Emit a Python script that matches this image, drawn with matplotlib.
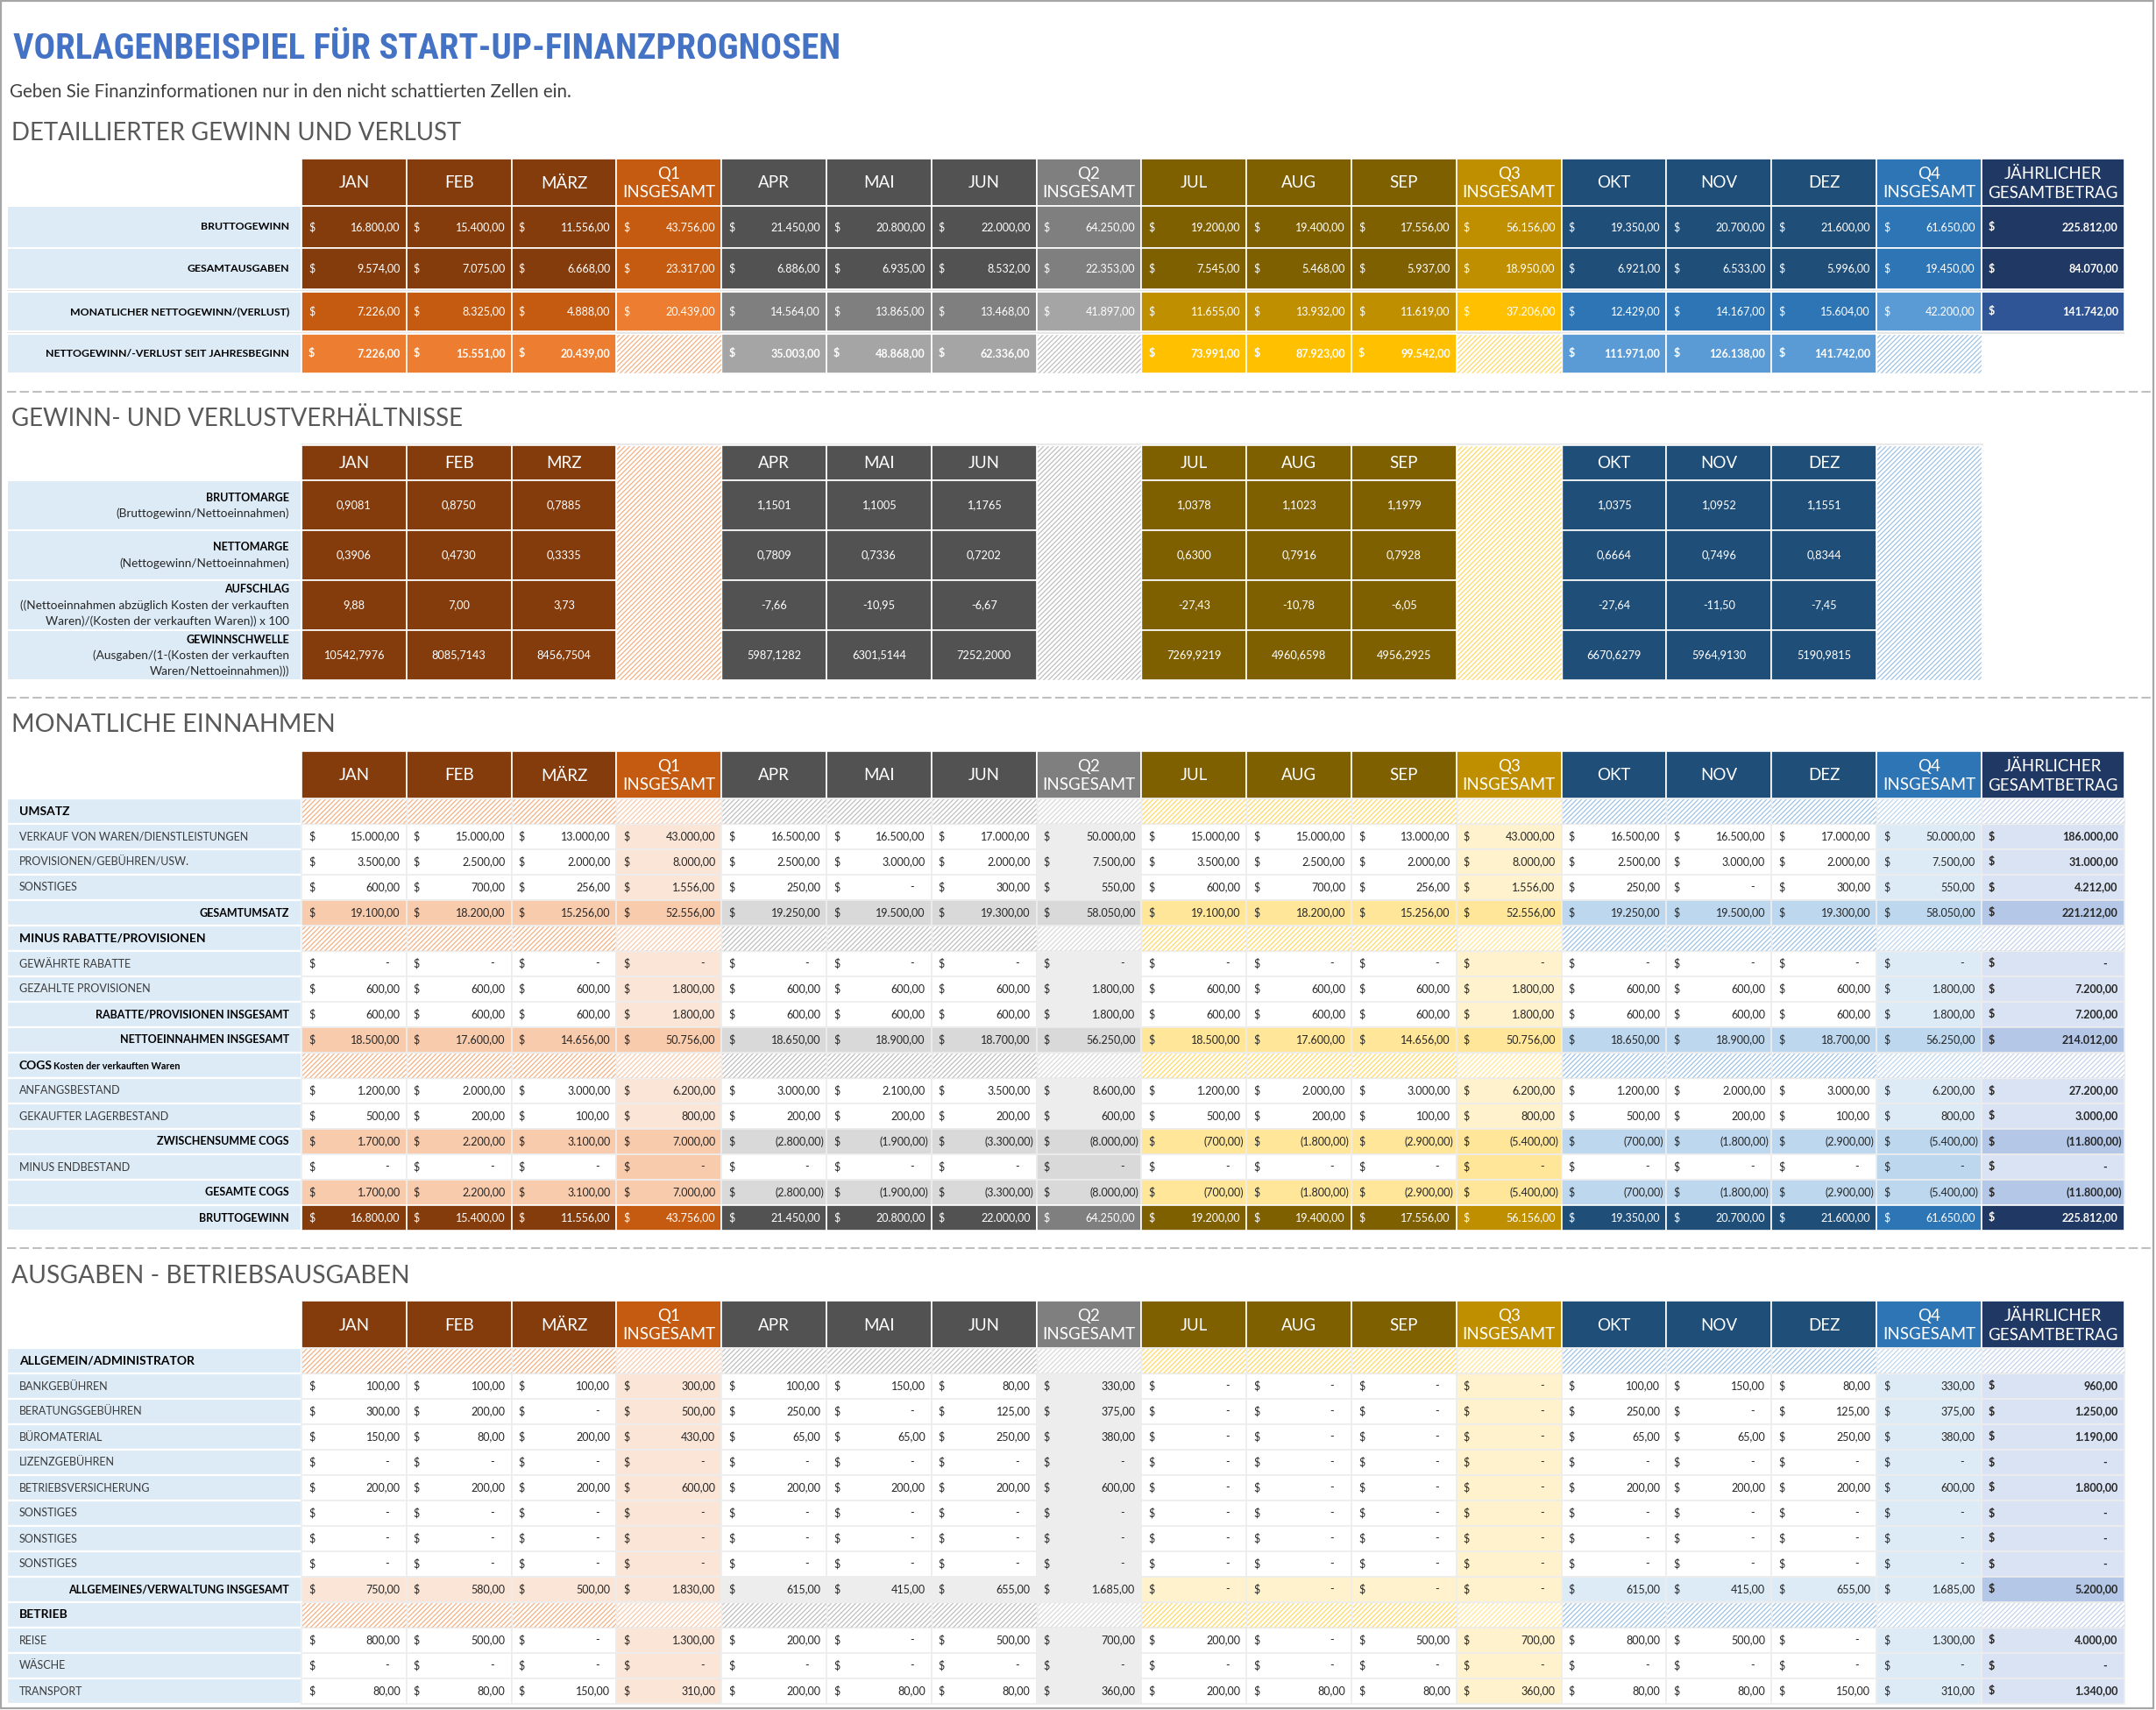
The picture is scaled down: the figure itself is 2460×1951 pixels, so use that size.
import matplotlib
matplotlib.use('Agg')
import matplotlib.pyplot as plt
from matplotlib.patches import Rectangle
from matplotlib import font_manager

# ----------------------------------------------------------------- data
TITLE = 'VORLAGENBEISPIEL FÜR START-UP-FINANZPROGNOSEN'
SUBTITLE = 'Geben Sie Finanzinformationen nur in den nicht schattierten Zellen ein.'
SECTION_TITLES = ['DETAILLIERTER GEWINN UND VERLUST', 'GEWINN- UND VERLUSTVERHÄLTNISSE',
                  'MONATLICHE EINNAHMEN', 'AUSGABEN - BETRIEBSAUSGABEN']
COLUMNS = ['JAN', 'FEB', 'MÄRZ', 'Q1\nINSGESAMT', 'APR', 'MAI', 'JUN', 'Q2\nINSGESAMT',
           'JUL', 'AUG', 'SEP', 'Q3\nINSGESAMT', 'OKT', 'NOV', 'DEZ', 'Q4\nINSGESAMT',
           'JÄHRLICHER\nGESAMTBETRAG']
RATIO_MONTHS = ['JAN', 'FEB', 'MRZ', 'APR', 'MAI', 'JUN', 'JUL', 'AUG', 'SEP', 'OKT', 'NOV', 'DEZ']

# Detaillierter Gewinn und Verlust (12 months + 4 quarter totals + annual)
pl_labels = ['BRUTTOGEWINN', 'GESAMTAUSGABEN', 'MONATLICHER NETTOGEWINN/(VERLUST)',
             'NETTOGEWINN/-VERLUST SEIT JAHRESBEGINN']
pl_bruttogewinn = [16800, 15400, 11556, 43756, 21450, 20800, 22000, 64250,
                   19200, 19400, 17556, 56156, 19350, 20700, 21600, 61650, 225812]
pl_gesamtausgaben = [9574, 7075, 6668, 23317, 6886, 6935, 8532, 22353,
                     7545, 5468, 5937, 18950, 6921, 6533, 5996, 19450, 84070]
pl_nettogewinn = [7226, 8325, 4888, 20439, 14564, 13865, 13468, 41897,
                  11655, 13932, 11619, 37206, 12429, 14167, 15604, 42200, 141742]
pl_ytd = [7226, 15551, 20439, None, 35003, 48868, 62336, None,
          73991, 87923, 99542, None, 111971, 126138, 141742, None, None]

# Gewinn- und Verlustverhältnisse (12 months)
ratio_labels = [['BRUTTOMARGE', '(Bruttogewinn/Nettoeinnahmen)'],
                ['NETTOMARGE', '(Nettogewinn/Nettoeinnahmen)'],
                ['AUFSCHLAG', '((Nettoeinnahmen abzüglich Kosten der verkauften',
                 'Waren)/(Kosten der verkauften Waren)) x 100'],
                ['GEWINNSCHWELLE', '(Ausgaben/(1-(Kosten der verkauften',
                 'Waren/Nettoeinnahmen)))']]
ratio_bruttomarge = [0.9081, 0.8750, 0.7885, 1.1501, 1.1005, 1.1765,
                     1.0378, 1.1023, 1.1979, 1.0375, 1.0952, 1.1551]
ratio_nettomarge = [0.3906, 0.4730, 0.3335, 0.7809, 0.7336, 0.7202,
                    0.6300, 0.7916, 0.7928, 0.6664, 0.7496, 0.8344]
ratio_aufschlag = [9.88, 7.00, 3.73, -7.66, -10.95, -6.67,
                   -27.43, -10.78, -6.05, -27.64, -11.50, -7.45]
ratio_gewinnschwelle = [10542.7976, 8085.7143, 8456.7504, 5987.1282, 6301.5144, 7252.2000,
                        7269.9219, 4960.6598, 4956.2925, 6670.6279, 5964.9130, 5190.9815]

# Monatliche Einnahmen
rev_verkauf = [15000, 15000, 13000, 43000, 16500, 16500, 17000, 50000,
               15000, 15000, 13000, 43000, 16500, 16500, 17000, 50000, 186000]
rev_provisionen = [3500, 2500, 2000, 8000, 2500, 3000, 2000, 7500,
                   3500, 2500, 2000, 8000, 2500, 3000, 2000, 7500, 31000]
rev_sonstiges = [600, 700, 256, 1556, 250, 0, 300, 550,
                 600, 700, 256, 1556, 250, 0, 300, 550, 4212]
rev_gesamtumsatz = [19100, 18200, 15256, 52556, 19250, 19500, 19300, 58050,
                    19100, 18200, 15256, 52556, 19250, 19500, 19300, 58050, 221212]
rab_gewaehrt = [0] * 17
rab_gezahlt = [600, 600, 600, 1800, 600, 600, 600, 1800,
               600, 600, 600, 1800, 600, 600, 600, 1800, 7200]
rab_insgesamt = [600, 600, 600, 1800, 600, 600, 600, 1800,
                 600, 600, 600, 1800, 600, 600, 600, 1800, 7200]
netto_einnahmen = [18500, 17600, 14656, 50756, 18650, 18900, 18700, 56250,
                   18500, 17600, 14656, 50756, 18650, 18900, 18700, 56250, 214012]
cogs_anfang = [1200, 2000, 3000, 6200, 3000, 2100, 3500, 8600,
               1200, 2000, 3000, 6200, 1200, 2000, 3000, 6200, 27200]
cogs_gekauft = [500, 200, 100, 800, 200, 200, 200, 600,
                500, 200, 100, 800, 500, 200, 100, 800, 3000]
cogs_zwischensumme = [1700, 2200, 3100, 7000, -2800, -1900, -3300, -8000,
                      -700, -1800, -2900, -5400, -700, -1800, -2900, -5400, -11800]
cogs_endbestand = [0] * 17
cogs_gesamt = [1700, 2200, 3100, 7000, -2800, -1900, -3300, -8000,
               -700, -1800, -2900, -5400, -700, -1800, -2900, -5400, -11800]
brutto_gewinn = [16800, 15400, 11556, 43756, 21450, 20800, 22000, 64250,
                 19200, 19400, 17556, 56156, 19350, 20700, 21600, 61650, 225812]

# Ausgaben - Betriebsausgaben
exp_bank = [100, 100, 100, 300, 100, 150, 80, 330, 0, 0, 0, 0, 100, 150, 80, 330, 960]
exp_beratung = [300, 200, 0, 500, 250, 0, 125, 375, 0, 0, 0, 0, 250, 0, 125, 375, 1250]
exp_buero = [150, 80, 200, 430, 65, 65, 250, 380, 0, 0, 0, 0, 65, 65, 250, 380, 1190]
exp_lizenz = [0] * 17
exp_versicherung = [200, 200, 200, 600, 200, 200, 200, 600, 0, 0, 0, 0, 200, 200, 200, 600, 1800]
exp_sonstiges1 = [0] * 17
exp_sonstiges2 = [0] * 17
exp_sonstiges3 = [0] * 17
exp_allg_total = [750, 580, 500, 1830, 615, 415, 655, 1685, 0, 0, 0, 0, 615, 415, 655, 1685, 5200]
exp_reise = [800, 500, 0, 1300, 200, 0, 500, 700, 200, 0, 500, 700, 800, 500, 0, 1300, 4000]
exp_waesche = [0] * 17
exp_transport = [80, 80, 150, 310, 200, 80, 80, 360, 200, 80, 80, 360, 80, 80, 150, 310, 1340]

REVENUE_ROWS = [
    ('UMSATZ', 'sec', None),
    ('VERKAUF VON WAREN/DIENSTLEISTUNGEN', 'item', rev_verkauf),
    ('PROVISIONEN/GEBÜHREN/USW.', 'item', rev_provisionen),
    ('SONSTIGES', 'item', rev_sonstiges),
    ('GESAMTUMSATZ', 'tot', rev_gesamtumsatz),
    ('MINUS RABATTE/PROVISIONEN', 'sec', None),
    ('GEWÄHRTE RABATTE', 'item', rab_gewaehrt),
    ('GEZAHLTE PROVISIONEN', 'item', rab_gezahlt),
    ('RABATTE/PROVISIONEN INSGESAMT', 'sub', rab_insgesamt),
    ('NETTOEINNAHMEN INSGESAMT', 'tot', netto_einnahmen),
    ('COGS', 'sec', None),
    ('ANFANGSBESTAND', 'item', cogs_anfang),
    ('GEKAUFTER LAGERBESTAND', 'item', cogs_gekauft),
    ('ZWISCHENSUMME COGS', 'tot', cogs_zwischensumme),
    ('MINUS ENDBESTAND', 'end', cogs_endbestand),
    ('GESAMTE COGS', 'tot', cogs_gesamt),
    ('BRUTTOGEWINN', 'grand', brutto_gewinn),
]
COGS_NOTE = 'Kosten der verkauften Waren'
EXPENSE_ROWS = [
    ('ALLGEMEIN/ADMINISTRATOR', 'sec', None),
    ('BANKGEBÜHREN', 'item', exp_bank),
    ('BERATUNGSGEBÜHREN', 'item', exp_beratung),
    ('BÜROMATERIAL', 'item', exp_buero),
    ('LIZENZGEBÜHREN', 'item', exp_lizenz),
    ('BETRIEBSVERSICHERUNG', 'item', exp_versicherung),
    ('SONSTIGES', 'item', exp_sonstiges1),
    ('SONSTIGES', 'item', exp_sonstiges2),
    ('SONSTIGES', 'item', exp_sonstiges3),
    ('ALLGEMEINES/VERWALTUNG INSGESAMT', 'tot4', exp_allg_total),
    ('BETRIEB', 'sec', None),
    ('REISE', 'item', exp_reise),
    ('WÄSCHE', 'item', exp_waesche),
    ('TRANSPORT', 'item', exp_transport),
]

# ----------------------------------------------------------------- style
avail = {f.name for f in font_manager.fontManager.ttflist}


def pick(*names):
    for n in names:
        if n in avail:
            return n
    return 'DejaVu Sans'


NARROW = pick('Liberation Sans Narrow', 'Roboto Condensed', 'DejaVu Sans')
BODY = pick('Lato', 'Open Sans', 'DejaVu Sans')
plt.rcParams['font.family'] = [BODY, 'DejaVu Sans']
plt.rcParams['hatch.linewidth'] = 0.9
HATCH = '//////'

PAL = [
    dict(hm='#843C0C', hq='#C55A11', r3m='#C55A11', r3q='#ED7D31', r4m='#ED7D31',
         hatch='#F4B183', hatchq='#F8CBAD', bodyq='#FBE5D6', tot='#F8CBAD'),
    dict(hm='#525252', hq='#7F7F7F', r3m='#7F7F7F', r3q='#A5A5A5', r4m='#A5A5A5',
         hatch='#BFBFBF', hatchq='#D9D9D9', bodyq='#EDEDED', tot='#D9D9D9'),
    dict(hm='#7F6000', hq='#BF8F00', r3m='#BF8F00', r3q='#FFC000', r4m='#FFC000',
         hatch='#FFD966', hatchq='#FFE699', bodyq='#FFF2CC', tot='#FFE699'),
    dict(hm='#1F4E79', hq='#2E75B6', r3m='#2E75B6', r3q='#5B9BD5', r4m='#5B9BD5',
         hatch='#9DC3E6', hatchq='#BDD7EE', bodyq='#DDEBF7', tot='#BDD7EE'),
]
ANN = dict(h='#203864', r3='#2F5597', body='#DAE3F3', tot='#B4C7E7', hatch='#C5D3EC')
LBL_BG = '#DDEBF7'
TXT = '#262626'
LINE = '#EDEDED'

W, H = 2460, 1951
LBL_X0, LBL_X1 = 8, 344
COL_W, ANN_W = 119.8, 163

fig = plt.figure(figsize=(W / 100, H / 100), dpi=100)
ax = fig.add_axes([0, 0, 1, 1])
ax.set_xlim(0, W)
ax.set_ylim(H, 0)
ax.axis('off')
renderer = fig.canvas.get_renderer()


def cx(i):
    return LBL_X1 + i * COL_W


def cw(i):
    return ANN_W if i == 16 else COL_W


def box(x, y, w, h, fc, ec='white', lw=1.0, z=2):
    ax.add_patch(Rectangle((x, y), w, h, facecolor=fc, edgecolor=ec, linewidth=lw, zorder=z))


def hbox(x, y, w, h, hc, bg='white', ec='white', lw=1.0):
    ax.add_patch(Rectangle((x, y), w, h, facecolor=bg, edgecolor='none', linewidth=0, zorder=2))
    ax.add_patch(Rectangle((x, y), w, h, fill=False, hatch=HATCH, edgecolor=hc,
                           linewidth=0, zorder=3))
    ax.add_patch(Rectangle((x, y), w, h, fill=False, edgecolor=ec, linewidth=lw, zorder=4))


def fit_text(x, y, s, width, size0, **kw):
    t = ax.text(x, y, s, fontsize=size0, ha='left', va='center', **kw)
    bb = t.get_window_extent(renderer=renderer)
    t.set_fontsize(size0 * width / bb.width)
    return t


def fmt(v):
    s = f'{abs(v):,.2f}'.replace(',', 'X').replace('.', ',').replace('X', '.')
    return s


def money(i, y0, h, v, color, bold=False, size=9):
    x0 = cx(i)
    x1 = x0 + cw(i)
    yc = y0 + h / 2
    fw = 'bold' if bold else 'normal'
    kw = dict(va='center', fontsize=size, color=color, fontweight=fw, zorder=6)
    ax.text(x0 + 8, yc, '$', ha='left', **kw)
    if v == 0:
        ax.text(x1 - 22, yc, '-', ha='center', **kw)
    elif v < 0:
        ax.text(x1 - 3, yc, '(' + fmt(v) + ')', ha='right', **kw)
    else:
        ax.text(x1 - 7, yc, fmt(v), ha='right', **kw)


def header_row(y0, y1):
    for i in range(17):
        if i == 16:
            fc = ANN['h']
        else:
            p = PAL[i // 4]
            fc = p['hq'] if i % 4 == 3 else p['hm']
        box(cx(i), y0, cw(i), y1 - y0, fc, ec='white', lw=1.2)
        ax.text(cx(i) + cw(i) / 2, (y0 + y1) / 2 + 1, COLUMNS[i], ha='center', va='center',
                color='white', fontsize=13.5, linespacing=1.35, zorder=6)


# ----------------------------------------------------------------- frame / titles
ax.add_patch(Rectangle((1, 1), W - 4, H - 3, fill=False, edgecolor='#A6A6A6', linewidth=1.6, zorder=10))
fit_text(15, 56, TITLE, 943, 30, color='#4472C4', fontweight='bold', family=[NARROW, 'DejaVu Sans'])
fit_text(11, 105, SUBTITLE, 640, 12, color='#404040')
sec_pos = [(152, 513), (478, 515), (827, 369), (1456, 452)]
for (yy, ww), s in zip(sec_pos, SECTION_TITLES):
    fit_text(13, yy, s, ww, 20, color='#595959', fontweight='normal')
for yy in (447, 796, 1424):
    ax.plot([8, W - 3], [yy, yy], color='#BFBFBF', lw=1.5, dashes=(5, 2), zorder=5)

# ----------------------------------------------------------------- section 1
header_row(181, 235)
s1_rows = [(235, 283), (283, 330), (333, 378), (381, 426)]
pl_values = [pl_bruttogewinn, pl_gesamtausgaben, pl_nettogewinn, pl_ytd]
box(LBL_X0, 330, ANN_W + cx(16) - LBL_X0, 3, '#E4E4E4', ec='none', lw=0, z=1)
box(LBL_X0, 378, ANN_W + cx(16) - LBL_X0, 3, '#E4E4E4', ec='none', lw=0, z=1)
for r, ((y0, y1), lab, vals) in enumerate(zip(s1_rows, pl_labels, pl_values)):
    h = y1 - y0
    box(LBL_X0, y0, LBL_X1 - LBL_X0, h, LBL_BG, ec='white', lw=1.5)
    ax.text(330, (y0 + y1) / 2, lab, ha='right', va='center', fontsize=8.8,
            fontweight='bold', color='black', zorder=6)
    for i in range(17):
        q = (i % 4 == 3) or i == 16
        if i == 16:
            fc = ANN['h'] if r < 2 else (ANN['r3'] if r == 2 else None)
        else:
            p = PAL[i // 4]
            if r < 2:
                fc = p['hq'] if q else p['hm']
            elif r == 2:
                fc = p['r3q'] if q else p['r3m']
            else:
                fc = None if q else p['r4m']
        if fc is None:
            if i != 16:
                hbox(cx(i), y0, cw(i), h, PAL[i // 4]['hatch'])
            continue
        box(cx(i), y0, cw(i), h, fc, ec='white', lw=1.2)
        if vals[i] is not None:
            money(i, y0, h, vals[i], 'white', bold=(r == 3 or i == 16))

# ----------------------------------------------------------------- section 2
S2_HDR0, S2_HDR1, S2_RH = 508, 548, 57
ax.plot([LBL_X1, cx(16)], [S2_HDR0 - 1, S2_HDR0 - 1], color='#E7E6E6', lw=2, zorder=1)
ratio_values = [ratio_bruttomarge, ratio_nettomarge, ratio_aufschlag, ratio_gewinnschwelle]
ratio_decimals = [4, 4, 2, 4]
for g in range(4):
    qi = g * 4 + 3
    hbox(cx(qi), S2_HDR0, cw(qi), S2_HDR1 + 4 * S2_RH - S2_HDR0, PAL[g]['hatch'])
m = 0
for i in range(16):
    if i % 4 == 3:
        continue
    p = PAL[i // 4]
    box(cx(i), S2_HDR0, cw(i), S2_HDR1 - S2_HDR0, p['hm'], ec='white', lw=1.2)
    ax.text(cx(i) + cw(i) / 2, (S2_HDR0 + S2_HDR1) / 2 + 1, RATIO_MONTHS[m], ha='center',
            va='center', color='white', fontsize=13.5, zorder=6)
    for r in range(4):
        y0 = S2_HDR1 + r * S2_RH
        box(cx(i), y0, cw(i), S2_RH, p['hm'], ec='white', lw=1.2)
        v = ratio_values[r][m]
        s = f'{v:.{ratio_decimals[r]}f}'.replace('.', ',')
        ax.text(cx(i) + cw(i) / 2, y0 + S2_RH / 2, s, ha='center', va='center',
                color='white', fontsize=9.2, zorder=6)
    m += 1
for r, lines in enumerate(ratio_labels):
    y0 = S2_HDR1 + r * S2_RH
    box(LBL_X0, y0, LBL_X1 - LBL_X0, S2_RH, LBL_BG, ec='white', lw=1.5)
    n = len(lines)
    start = S2_RH / 2 - 9 * (n - 1)
    for k, line in enumerate(lines):
        ax.text(330, y0 + start + 18 * k, line, ha='right', va='center',
                fontsize=9.0 if k == 0 else 9.8, fontweight='bold' if k == 0 else 'normal',
                color='black' if k == 0 else '#262626', zorder=6)


# ----------------------------------------------------------------- sections 3 / 4
def money_table(y_top, row_h, rows):
    y = y_top
    for label, kind, vals in rows:
        yc = y + row_h / 2
        box(LBL_X0, y, LBL_X1 - LBL_X0, row_h, LBL_BG, ec='white', lw=1.6)
        if kind == 'sec':
            t = ax.text(22, yc, label, ha='left', va='center', fontsize=10, fontweight='bold',
                        color='black', zorder=6)
            if label == 'COGS':
                ax.annotate(COGS_NOTE, xy=(1, 0), xycoords=t, xytext=(0.5, 0),
                            textcoords='offset points', ha='left', va='bottom',
                            fontsize=7.8, fontweight='bold', color='black', zorder=6)
        elif kind in ('item', 'end'):
            ax.text(22, yc, label, ha='left', va='center', fontsize=9, color='#3A3A3A', zorder=6)
        else:
            ax.text(330, yc, label, ha='right', va='center', fontsize=9, fontweight='bold',
                    color='black', zorder=6)
        for i in range(17):
            q = i % 4 == 3
            x0, w = cx(i), cw(i)
            if i == 16:
                if kind == 'sec':
                    hbox(x0, y, w, row_h, ANN['hatch'], ec=LINE)
                    continue
                fc = {'tot': ANN['tot'], 'tot4': ANN['tot'], 'grand': ANN['h']}.get(kind, ANN['body'])
            else:
                p = PAL[i // 4]
                if kind == 'sec':
                    hbox(x0, y, w, row_h, p['hatchq'] if q else p['hatch'], ec=LINE)
                    continue
                if kind == 'grand':
                    fc = p['hq'] if q else p['hm']
                elif kind == 'tot':
                    fc = p['tot']
                elif kind == 'tot4':
                    fc = p['bodyq']
                elif kind == 'end':
                    fc = p['tot'] if q else 'white'
                else:
                    fc = p['bodyq'] if q else 'white'
            dark = kind == 'grand'
            box(x0, y, w, row_h, fc, ec='white' if dark else LINE, lw=1.2)
            money(i, y, row_h, vals[i], 'white' if dark else TXT, bold=(i == 16))
        y += row_h


header_row(857, 911)
money_table(911, 29, REVENUE_ROWS)
header_row(1484, 1538)
money_table(1538, 29, EXPENSE_ROWS)

fig.savefig('out.png', dpi=100)
